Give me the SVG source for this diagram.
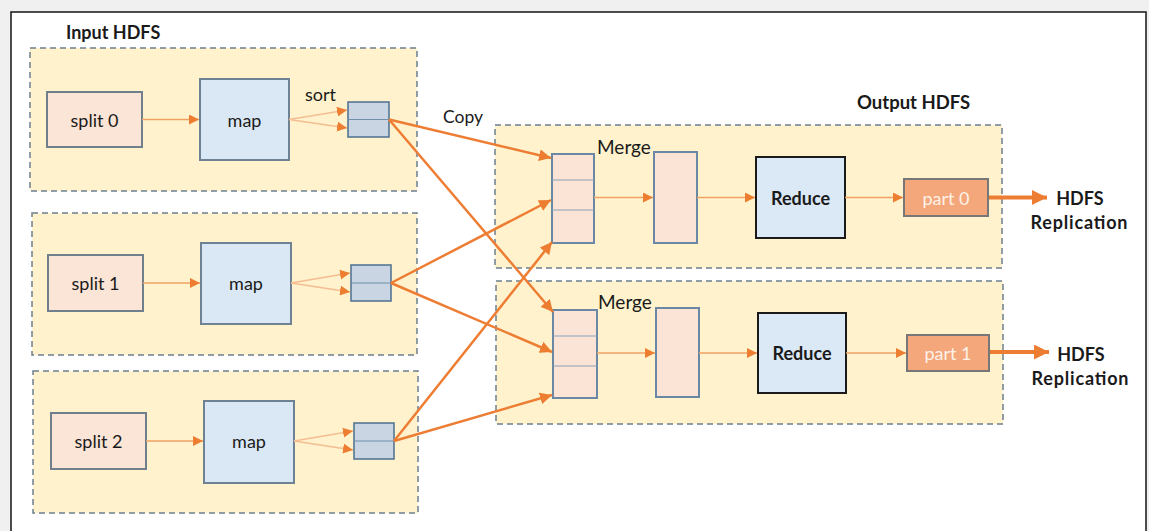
<svg xmlns="http://www.w3.org/2000/svg" width="1149" height="531" viewBox="0 0 1149 531">
<style>
text{font-family:Lato,"Open Sans","Liberation Sans",sans-serif;fill:#1a1a1a}
.lbl{font-size:18px;text-anchor:middle;dominant-baseline:central}
.b{font-weight:bold}
.cont{fill:#fff2cc;stroke:#6c7f8f;stroke-width:1.5;stroke-dasharray:6 4}
.split{fill:#fbe5d6;stroke:#6f7f8c;stroke-width:2}
.map{fill:#dae8f5;stroke:#6f8294;stroke-width:2}
.sortb{fill:#c9d5e3;stroke:#557693;stroke-width:1.6}
.merge{fill:#fbe3d6;stroke:#6a88a3;stroke-width:2}
.red{fill:#dbe8f5;stroke:#1a1a1a;stroke-width:2}
.part{fill:#f4a77a;stroke:#777;stroke-width:2}
.thin{stroke:#f0a266;stroke-width:1.5;fill:none}
.pale{stroke:#f5be92;stroke-width:1.5;fill:none}
.thick{stroke:#ee7d34;stroke-width:2.5;fill:none}
.fat{stroke:#ee7d34;stroke-width:4;fill:none}
</style>
<defs>
<marker id="ah" viewBox="0 0 10 10" refX="10" refY="5" markerWidth="10" markerHeight="10" markerUnits="userSpaceOnUse" orient="auto"><path d="M0,0 L10,5 L0,10 z" fill="#ed7d31"/></marker>
<marker id="ah2" viewBox="0 0 10 10" refX="10" refY="5" markerWidth="12" markerHeight="12" markerUnits="userSpaceOnUse" orient="auto"><path d="M0,0 L10,5 L0,10 z" fill="#ed7d31"/></marker>
<marker id="ah3" viewBox="0 0 10 10" refX="10" refY="5" markerWidth="15" markerHeight="15" markerUnits="userSpaceOnUse" orient="auto"><path d="M0,0 L10,5 L0,10 z" fill="#ed7d31"/></marker>
</defs>
<rect x="0" y="0" width="1149" height="531" fill="#f0f0f0"/>
<rect x="11" y="12" width="1135" height="530" fill="#ffffff" stroke="#222" stroke-width="1.6"/>

<g id="input-hdfs">
<text x="66" y="39" class="b" font-size="18">Input HDFS</text>
</g>
<g id="input-box-0"><rect class="cont" x="30" y="48" width="387" height="143"/></g>
<g id="input-box-1"><rect class="cont" x="32" y="213" width="385" height="142"/></g>
<g id="input-box-2"><rect class="cont" x="33" y="371" width="385" height="142"/></g>
<g id="output-hdfs"><text x="857" y="109" class="b" font-size="18.5">Output HDFS</text></g>
<g id="output-box-0"><rect class="cont" x="495" y="125" width="507" height="143"/></g>
<g id="output-box-1"><rect class="cont" x="496" y="281" width="507" height="143"/></g>

<g id="split0"><rect class="split" x="47" y="92" width="95" height="55"/><text class="lbl" x="94.5" y="119.5">split 0</text></g>
<g id="split1"><rect class="split" x="48" y="255" width="95" height="56"/><text class="lbl" x="95.5" y="283">split 1</text></g>
<g id="split2"><rect class="split" x="51" y="413" width="95" height="56"/><text class="lbl" x="98.5" y="441">split 2</text></g>

<g id="map0"><rect class="map" x="200" y="79" width="89" height="81"/><text class="lbl" x="244.5" y="119.5">map</text></g>
<g id="map1"><rect class="map" x="201" y="243" width="90" height="81"/><text class="lbl" x="246" y="283">map</text></g>
<g id="map2"><rect class="map" x="204" y="401" width="90" height="82"/><text class="lbl" x="249" y="441">map</text></g>

<g id="sort0"><rect class="sortb" x="348" y="102" width="41" height="35"/><line x1="348" y1="119.5" x2="389" y2="119.5" stroke="#6f8ea8" stroke-width="1"/><text x="305" y="101" font-size="18">sort</text></g>
<g id="sort1"><rect class="sortb" x="351" y="265" width="40" height="36"/><line x1="351" y1="283" x2="391" y2="283" stroke="#6f8ea8" stroke-width="1"/></g>
<g id="sort2"><rect class="sortb" x="354" y="423" width="40" height="36"/><line x1="354" y1="441" x2="394" y2="441" stroke="#6f8ea8" stroke-width="1"/></g>

<g id="copy-label"><text x="443" y="123" font-size="17.5">Copy</text></g>

<g id="merge0"><rect class="merge" x="552" y="154" width="42" height="89"/><line x1="552" y1="180" x2="594" y2="180" stroke="#8aa3b8" stroke-width="1"/><line x1="552" y1="210" x2="594" y2="210" stroke="#8aa3b8" stroke-width="1"/><text x="597" y="154" font-size="19">Merge</text></g>
<g id="merge1"><rect class="merge" x="553" y="310" width="44" height="88"/><line x1="553" y1="336" x2="597" y2="336" stroke="#8aa3b8" stroke-width="1"/><line x1="553" y1="366" x2="597" y2="366" stroke="#8aa3b8" stroke-width="1"/><text x="598" y="309" font-size="19">Merge</text></g>
<g id="merged0"><rect class="merge" x="654" y="152" width="43" height="91"/></g>
<g id="merged1"><rect class="merge" x="656" y="308" width="43" height="89"/></g>

<g id="reduce0"><rect class="red" x="756" y="157" width="89" height="81"/><text class="lbl b" x="800.5" y="197.5" font-size="17">Reduce</text></g>
<g id="reduce1"><rect class="red" x="758" y="313" width="88" height="80"/><text class="lbl b" x="802" y="353" font-size="17">Reduce</text></g>

<g id="part0"><rect class="part" x="904" y="179" width="84" height="37"/><text class="lbl" x="946" y="197.5" font-size="17" style="fill:#fdf1e8">part 0</text></g>
<g id="part1"><rect class="part" x="907" y="335" width="82" height="36"/><text class="lbl" x="948" y="353" font-size="17" style="fill:#fdf1e8">part 1</text></g>

<g id="repl0"><text class="lbl b" x="1080" y="198">HDFS</text><text class="lbl b" x="1079" y="222" textLength="97">Replication</text></g>
<g id="repl1"><text class="lbl b" x="1081" y="354">HDFS</text><text class="lbl b" x="1080" y="378" textLength="97">Replication</text></g>

<g id="connectors">
<line class="thin" x1="142" y1="119.5" x2="199" y2="119.5" marker-end="url(#ah)"/>
<line class="thin" x1="143" y1="283" x2="200" y2="283" marker-end="url(#ah)"/>
<line class="thin" x1="146" y1="441" x2="203" y2="441" marker-end="url(#ah)"/>

<line class="pale" x1="289" y1="119.5" x2="347" y2="110" marker-end="url(#ah)"/>
<line class="pale" x1="289" y1="119.5" x2="347" y2="128" marker-end="url(#ah)"/>
<line class="pale" x1="291" y1="283" x2="350" y2="273" marker-end="url(#ah)"/>
<line class="pale" x1="291" y1="283" x2="350" y2="292" marker-end="url(#ah)"/>
<line class="pale" x1="294" y1="441" x2="353" y2="431" marker-end="url(#ah)"/>
<line class="pale" x1="294" y1="441" x2="353" y2="450" marker-end="url(#ah)"/>

<line class="thick" x1="389" y1="119.5" x2="551" y2="158" marker-end="url(#ah2)"/>
<line class="thick" x1="389" y1="119.5" x2="553" y2="312" marker-end="url(#ah2)"/>
<line class="thick" x1="391" y1="283" x2="551" y2="200" marker-end="url(#ah2)"/>
<line class="thick" x1="391" y1="283" x2="552" y2="352" marker-end="url(#ah2)"/>
<line class="thick" x1="394" y1="441" x2="552" y2="242" marker-end="url(#ah2)"/>
<line class="thick" x1="394" y1="441" x2="552" y2="395" marker-end="url(#ah2)"/>

<line class="thin" x1="594" y1="197.5" x2="653" y2="197.5" marker-end="url(#ah)"/>
<line class="thin" x1="697" y1="197.5" x2="755" y2="197.5" marker-end="url(#ah)"/>
<line class="thin" x1="845" y1="197.5" x2="903" y2="197.5" marker-end="url(#ah)"/>
<line class="thin" x1="597" y1="353" x2="655" y2="353" marker-end="url(#ah)"/>
<line class="thin" x1="699" y1="353" x2="757" y2="353" marker-end="url(#ah)"/>
<line class="thin" x1="846" y1="353" x2="906" y2="353" marker-end="url(#ah)"/>

<line class="fat" x1="989" y1="197.5" x2="1047" y2="197.5" marker-end="url(#ah3)"/>
<line class="fat" x1="990" y1="352" x2="1049" y2="352" marker-end="url(#ah3)"/>
</g>
</svg>
